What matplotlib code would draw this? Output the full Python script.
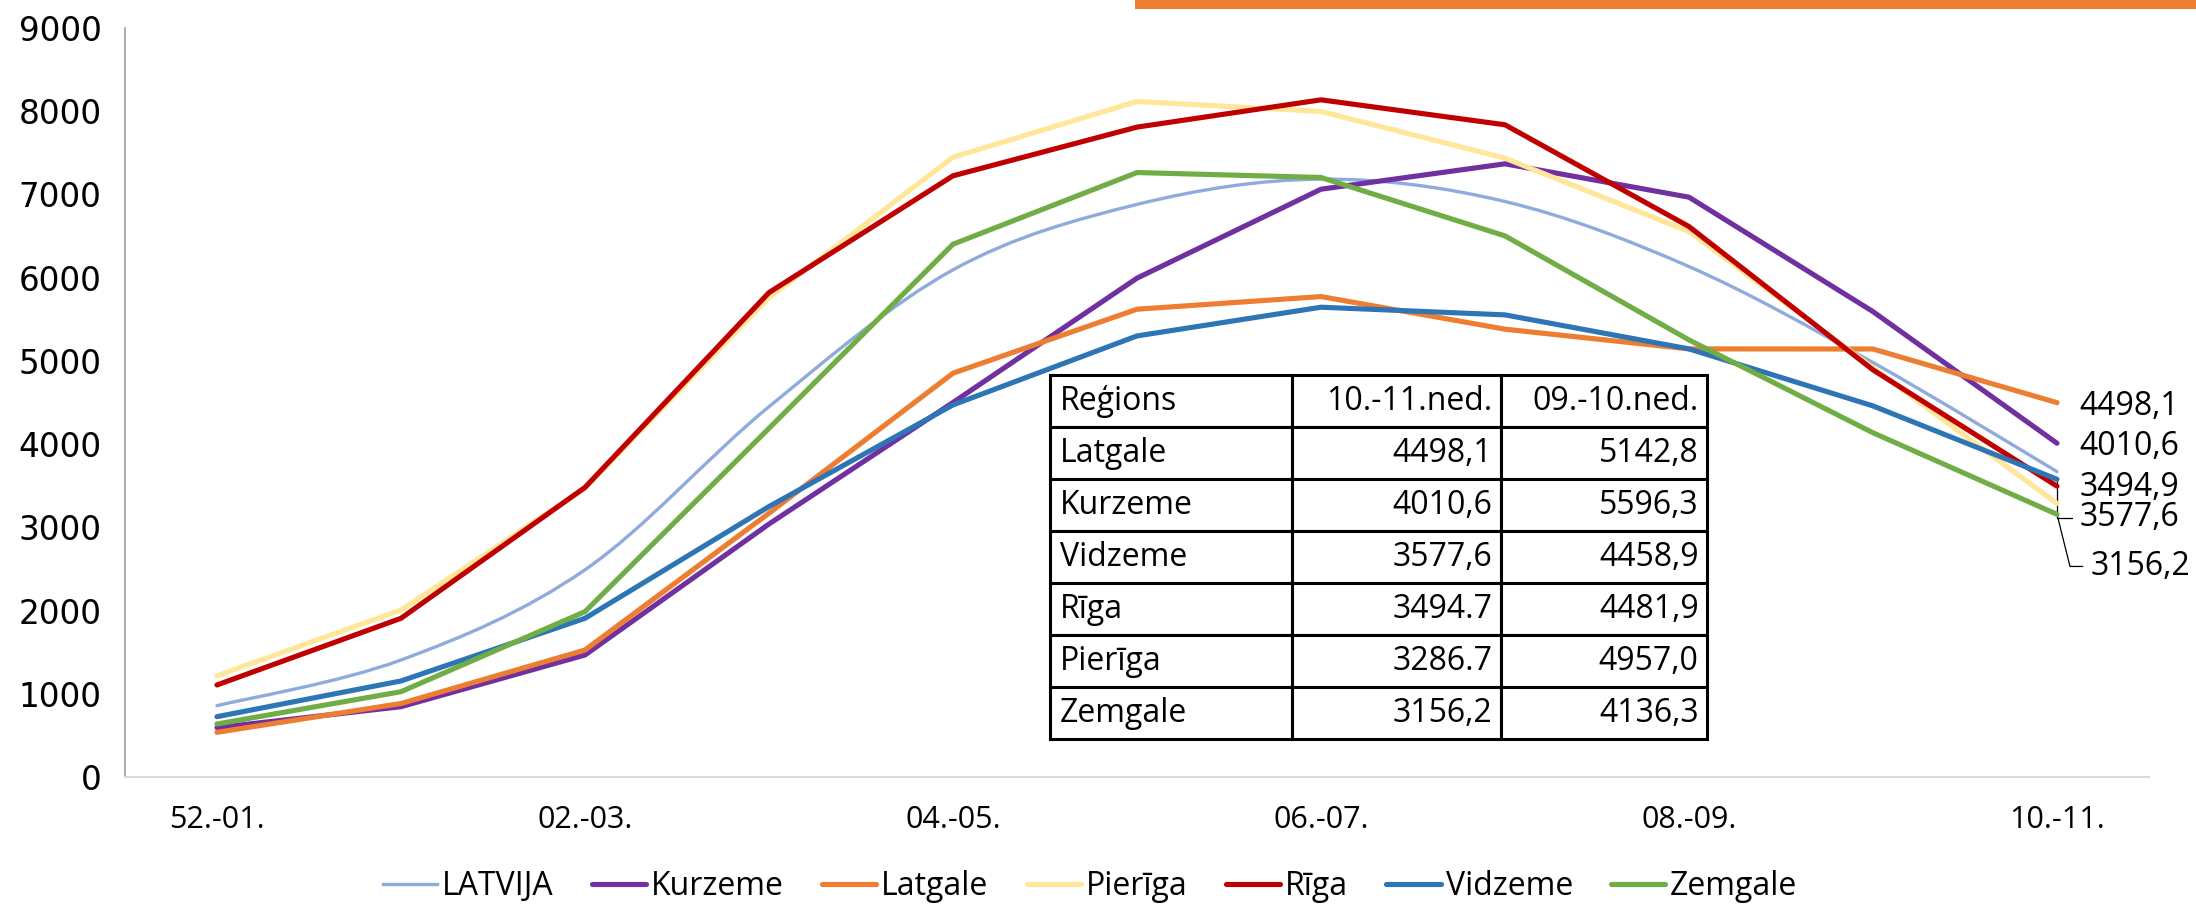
import numpy as np
import matplotlib
matplotlib.use("Agg")
import matplotlib.pyplot as plt
from matplotlib.path import Path
from matplotlib.patches import PathPatch, Rectangle
from matplotlib.lines import Line2D

# ---------------- data ----------------
categories = ['52.-01.', '01.-02.', '02.-03.', '03.-04.', '04.-05.', '05.-06.',
              '06.-07.', '07.-08.', '08.-09.', '09.-10.', '10.-11.']
latvija = [857, 1406, 2490, 4450, 6094, 6880, 7184, 6915, 6133, 4980, 3670]
kurzeme = [593, 845, 1466, 3040, 4500, 5994, 7063, 7368, 6967, 5592, 4010.6]
latgale = [537, 883, 1526, 3170, 4852, 5621, 5773, 5381, 5144, 5142.8, 4498.1]
pieriga = [1217, 2007, 3470, 5760, 7448, 8117, 7997, 7436, 6554, 4916, 3286.7]
riga = [1106, 1907, 3480, 5821, 7224, 7809, 8137, 7837, 6614, 4892, 3494.7]
vidzeme = [725, 1154, 1907, 3250, 4471, 5300, 5645, 5553, 5144, 4458.9, 3577.6]
zemgale = [637, 1025, 1987, 4190, 6402, 7263, 7204, 6502, 5252, 4136.3, 3156.2]

series_names = ['LATVIJA', 'Kurzeme', 'Latgale', 'Pierīga', 'Rīga', 'Vidzeme', 'Zemgale']
series_colors = ['#8FAADC', '#7030A0', '#ED7D31', '#FFE699', '#C00000', '#2E75B6', '#70AD47']

end_labels = ['4498,1', '4010,6', '3494,9', '3577,6', '3156,2']

table_header = ['Reģions', '10.-11.ned.', '09.-10.ned.']
table_regions = ['Latgale', 'Kurzeme', 'Vidzeme', 'Rīga', 'Pierīga', 'Zemgale']
table_cur = ['4498,1', '4010,6', '3577,6', '3494.7', '3286.7', '3156,2']
table_prev = ['5142,8', '5596,3', '4458,9', '4481,9', '4957,0', '4136,3']

# ---------------- figure ----------------
TXT = ['Open Sans', 'DejaVu Sans']
plt.rcParams['font.family'] = TXT

fig = plt.figure(figsize=(21.96, 9.05), dpi=100)
ax = fig.add_axes([125 / 2196, 1 - 777 / 905, 2024 / 2196, 749 / 905])

x = np.arange(len(categories))

# smoothed LATVIJA line (bezier through data points)
pts = np.column_stack([x, np.array(latvija, float)])
verts = [pts[0]]
codes = [Path.MOVETO]
n = len(pts)
for i in range(n - 1):
    p0 = pts[max(i - 1, 0)]
    p1 = pts[i]
    p2 = pts[i + 1]
    p3 = pts[min(i + 2, n - 1)]
    c1 = p1 + (p2 - p0) / 6.0
    c2 = p2 - (p3 - p1) / 6.0
    verts += [c1, c2, p2]
    codes += [Path.CURVE4] * 3
patch = PathPatch(Path(verts, codes), facecolor='none', edgecolor=series_colors[0],
                  lw=2.4, capstyle='round', joinstyle='round', zorder=2)
ax.add_patch(patch)

handles = [Line2D([], [], color=series_colors[0], lw=2.4)]
others = [kurzeme, latgale, pieriga, riga, vidzeme, zemgale]
for k, vals in enumerate(others):
    ax.plot(x, vals, color=series_colors[k + 1], lw=3.7,
            solid_capstyle='round', solid_joinstyle='round', zorder=3 + k)
    handles.append(Line2D([], [], color=series_colors[k + 1], lw=3.7, solid_capstyle='round'))

ax.set_xlim(-0.5, len(categories) - 0.5)
ax.set_ylim(0, 9000)
ax.set_yticks(np.arange(0, 9001, 1000))
ax.set_xticks(x[::2])
ax.set_xticklabels(categories[::2], fontsize=22)
for lab in ax.get_yticklabels():
    lab.set_fontfamily('DejaVu Sans')
    lab.set_fontsize(23.5)
ax.tick_params(axis='y', length=0, pad=17)
ax.tick_params(axis='x', length=0, pad=20)
for s in ['top', 'right']:
    ax.spines[s].set_visible(False)
ax.spines['left'].set_color('#A6A6A6')
ax.spines['left'].set_linewidth(1.3)
ax.spines['bottom'].set_color('#D9D9D9')
ax.spines['bottom'].set_linewidth(1.5)

# ---------------- end labels ----------------
xe = x[-1]
xl = xe + 0.12
ax.annotate(end_labels[0], xy=(xe, latgale[-1]), xytext=(xl, 4450), ha='left', va='center',
            fontsize=23, annotation_clip=False)
ax.annotate(end_labels[1], xy=(xe, kurzeme[-1]), xytext=(xl, 3970), ha='left', va='center',
            fontsize=23, annotation_clip=False)
ax.annotate(end_labels[2], xy=(xe, riga[-1]), xytext=(xl, 3474), ha='left', va='center',
            fontsize=23, annotation_clip=False)
ax.annotate(end_labels[3], xy=(xe, vidzeme[-1]), xytext=(xl, 3113), ha='left', va='center',
            fontsize=23, annotation_clip=False,
            arrowprops=dict(arrowstyle='-', color='black', lw=0.9, relpos=(0, 0.5),
                            shrinkA=5, shrinkB=0, patchA=None,
                            connectionstyle='angle,angleA=0,angleB=90,rad=0'))
ax.annotate(end_labels[4], xy=(xe, zemgale[-1]), xytext=(xl + 0.065, 2530), ha='left', va='center',
            fontsize=23, annotation_clip=False,
            arrowprops=dict(arrowstyle='-', color='black', lw=0.9, relpos=(0, 0.5),
                            shrinkA=6, shrinkB=0, patchA=None,
                            connectionstyle='angle,angleA=0,angleB=-76,rad=0'))

# ---------------- table ----------------
cell_text = [table_header] + [[r, c, p] for r, c, p in zip(table_regions, table_cur, table_prev)]
tbl = ax.table(cellText=cell_text, cellLoc='right',
               colWidths=[0.368, 0.318, 0.314],
               bbox=[0.457, 0.0507, 0.3246, 0.486])
tbl.auto_set_font_size(False)
tbl.set_zorder(20)
for (r, c), cell in tbl.get_celld().items():
    cell.set_edgecolor('black')
    cell.set_linewidth(2.2)
    cell.set_facecolor('white')
    cell.PAD = 0.04
    t = cell.get_text()
    t.set_fontsize(23)
    t.set_fontfamily(TXT)
    if c == 0:
        cell._loc = 'left'
        t.set_ha('left')

# ---------------- legend ----------------
fig.legend(handles, series_names, loc='center', bbox_to_anchor=(0.4964, 0.02),
           ncol=7, frameon=False, fontsize=23, handlelength=1.7, handletextpad=0.15,
           columnspacing=1.2, borderpad=0.0)

# orange decorative bar at the top
fig.patches.append(Rectangle((1135 / 2196, 1 - 9 / 905), 1 - 1135 / 2196, 9 / 905,
                             transform=fig.transFigure, facecolor='#ED7D31',
                             edgecolor='none', zorder=10))

fig.savefig('out.png', dpi=100, facecolor='white')
